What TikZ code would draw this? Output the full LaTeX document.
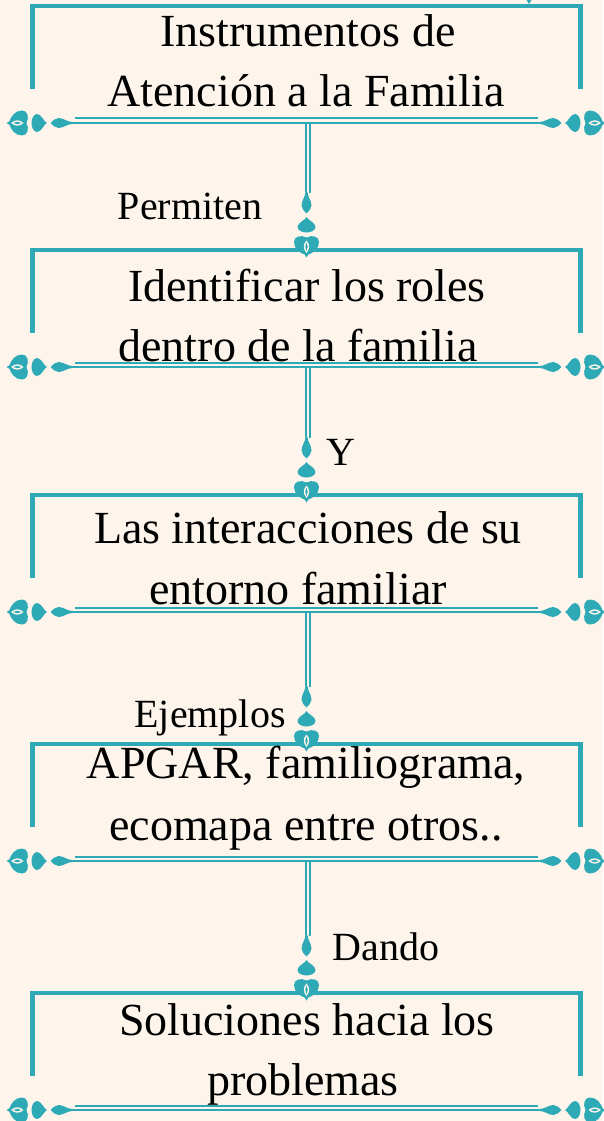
\documentclass[tikz,border=0pt]{standalone}
\usepackage{fontspec}
\setmainfont{Liberation Serif}
\definecolor{teal1}{RGB}{46,170,182}
\definecolor{bgc}{RGB}{253,245,236}
\begin{document}
\begin{tikzpicture}[x=1pt,y=-1pt,
  frame/.style={draw=teal1,line width=4.5pt,line join=miter},
  lineA/.style={draw=teal1,line width=2pt},
  lineB/.style={draw=teal1,line width=2.6pt},
  conn/.style={draw=teal1,line width=1.7pt},
  boxtxt/.style={anchor=base,inner sep=0pt,font=\fontsize{46}{55}\selectfont},
  lbl/.style={anchor=base,inner sep=0pt,font=\fontsize{40}{48}\selectfont},
  orn/.pic={
    \fill[teal1] (0,1) .. controls (5,1.2) and (8.5,5) .. (13.5,5) .. controls (17,5) and (19,2.2) .. (21.5,0) .. controls (19,-2.2) and (17,-5) .. (13.5,-5) .. controls (8.5,-5) and (5,-1.2) .. (0,-1) -- cycle;
    \fill[teal1] (25,0) .. controls (28,1) and (30.5,9) .. (35,9) .. controls (38.5,9) and (40.5,4) .. (40.5,0) .. controls (40.5,-4) and (38.5,-9) .. (35,-9) .. controls (30.5,-9) and (28,-1) .. (25,0) -- cycle;
    \fill[teal1] (45.5,0) .. controls (42.5,6) and (44.5,12.5) .. (50,12.5) .. controls (57,12.5) and (61,6.5) .. (62.5,1.8) -- (65.5,0) -- (62.5,-1.8) .. controls (61,-6.5) and (57,-12.5) .. (50,-12.5) .. controls (44.5,-12.5) and (42.5,-6) .. (45.5,0) -- cycle;
    \fill[bgc] (48.5,0) .. controls (52,3.6) and (57,3.6) .. (61,0) .. controls (57,-3.6) and (52,-3.6) .. (48.5,0) -- cycle;
    \fill[teal1] (50.5,0) .. controls (53,1.6) and (56,1.6) .. (59,0) .. controls (56,-1.6) and (53,-1.6) .. (50.5,0) -- cycle;
  }]
\fill[bgc] (0,0) rectangle (603,1121);
\useasboundingbox (0,0) rectangle (603,1121);
% small cut-off mark at the top
\fill[teal1] (526.5,0) -- (531.5,0) -- (529,4) -- cycle;
% boxes
\foreach \T [count=\i] in {6,250,495,744,993}{
  \coordinate (top\i) at (306,\T);
  \coordinate (bot\i) at (306,\T+117);
  \draw[frame] (32.5,\T+83) -- (32.5,\T) -- (580.5,\T) -- (580.5,\T+83);
  \draw[lineA] (75,\T+112.5) -- (538,\T+112.5);
  \draw[lineB] (72,\T+117) -- (540,\T+117);
  \pic[rotate=180] at (72,\T+117) {orn};
  \pic at (540,\T+117) {orn};
}
% connectors
\foreach \i/\j in {1/2,2/3,3/4,4/5}{
  \draw[conn] (bot\i) -- ([yshift=58pt]top\j);
  \draw[conn] ([xshift=4pt]bot\i) -- ([xshift=4pt,yshift=57pt]top\j);
  \pic[rotate=-90] at ([xshift=0.5pt,yshift=58pt]top\j) {orn};
}
% box texts
\node[boxtxt] (t1a) at (308,47) {Instrumentos de};
\node[boxtxt] (t1b) at (306,107) {Atención a la Familia};
\node[boxtxt] (t2a) at (307,301) {Identificar los roles};
\node[boxtxt] (t2b) at (298,361) {dentro de la familia};
\node[boxtxt] (t3a) at (308,543) {Las interacciones de su};
\node[boxtxt] (t3b) at (298,604) {entorno familiar};
\node[boxtxt] (t4a) at (306,778) {APGAR, familiograma,};
\node[boxtxt] (t4b) at (306,840) {ecomapa entre otros..};
\node[boxtxt] (t5a) at (307,1035) {Soluciones hacia los};
\node[boxtxt] (t5b) at (303,1095) {problemas};
% connector labels
\node[lbl] (l1) at (190,219) {Permiten};
\node[lbl] (l2) at (341,465) {Y};
\node[lbl] (l3) at (210,727) {Ejemplos};
\node[lbl] (l4) at (386,960) {Dando};
\end{tikzpicture}
\end{document}
